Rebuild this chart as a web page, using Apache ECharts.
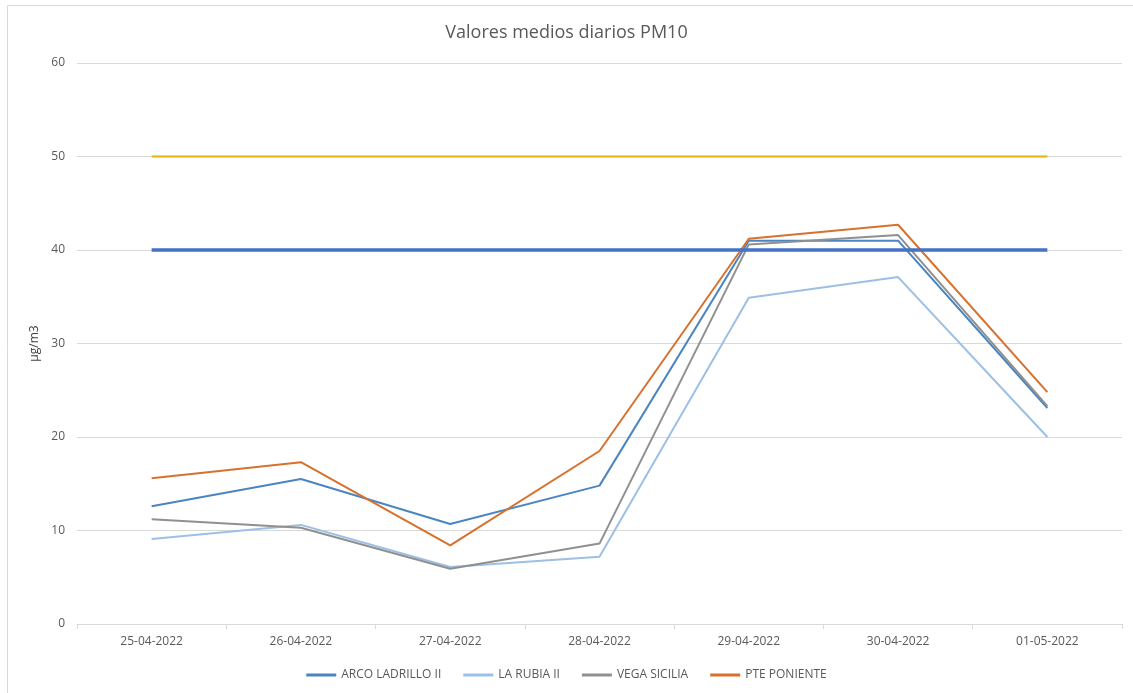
<!DOCTYPE html>
<html>
<head>
<meta charset="utf-8">
<script src="https://cdn.jsdelivr.net/npm/echarts@6/dist/echarts.min.js"></script>
<style>
html,body{margin:0;padding:0;background:#fff;}
#main{width:1133px;height:693px;}
</style>
</head>
<body>
<div id="main"></div>
<script>
const categories = ['25-04-2022','26-04-2022','27-04-2022','28-04-2022','29-04-2022','30-04-2022','01-05-2022'];
const arcoLadrillo = [12.6, 15.5, 10.7, 14.8, 41.0, 41.0, 23.1];
const laRubia = [9.1, 10.6, 6.1, 7.2, 34.9, 37.1, 20.0];
const vegaSicilia = [11.2, 10.3, 5.9, 8.6, 40.6, 41.6, 23.3];
const ptePoniente = [15.6, 17.3, 8.4, 18.5, 41.2, 42.7, 24.8];
const limit50 = [50, 50, 50, 50, 50, 50, 50];
const limit40 = [40, 40, 40, 40, 40, 40, 40];
const yTicks = { min: 0, max: 60, interval: 10 };

const font = '"Open Sans", "Noto Sans", sans-serif';
const chart = echarts.init(document.getElementById('main'));
function line(name, data, color, width) {
  return { name, type: 'line', data, symbol: 'none', lineStyle: { color, width }, itemStyle: { color }, animation: false };
}
chart.setOption({
  backgroundColor: '#fff',
  animation: false,
  title: {
    text: 'Valores medios diarios PM10', left: 'center', top: 19,
    textStyle: { fontFamily: font, fontSize: 18, fontWeight: 'normal', color: '#595959' }
  },
  graphic: [{
    type: 'rect', shape: { x: 7.5, y: 5.5, width: 1140, height: 700 },
    style: { fill: 'none', stroke: '#D9D9D9', lineWidth: 1 }, silent: true
  }],
  grid: { left: 77, right: 11, top: 63, bottom: 69 },
  legend: {
    data: ['ARCO LADRILLO II', 'LA RUBIA II', 'VEGA SICILIA', 'PTE PONIENTE'],
    bottom: 7, left: 'center', icon: 'rect', itemWidth: 30, itemHeight: 3, itemGap: 22,
    textStyle: { fontFamily: font, fontSize: 12, color: '#595959' }
  },
  xAxis: {
    type: 'category', data: categories, boundaryGap: true,
    axisLine: { lineStyle: { color: '#D9D9D9' } },
    axisTick: { show: true, length: 5, lineStyle: { color: '#D9D9D9' } },
    axisLabel: { fontFamily: font, fontSize: 12, color: '#595959', margin: 12 }
  },
  yAxis: {
    type: 'value', min: yTicks.min, max: yTicks.max, interval: yTicks.interval,
    name: 'µg/m3', nameLocation: 'middle', nameGap: 29, nameRotate: 90,
    nameTextStyle: { fontFamily: font, fontSize: 12, color: '#404040' },
    axisLine: { show: false }, axisTick: { show: false },
    axisLabel: { fontFamily: font, fontSize: 12, color: '#595959', margin: 12 },
    splitLine: { lineStyle: { color: '#D9D9D9' } }
  },
  series: [
    line('ARCO LADRILLO II', arcoLadrillo, '#4A85C2', 2),
    line('LA RUBIA II', laRubia, '#9CC0E5', 2),
    line('VEGA SICILIA', vegaSicilia, '#909090', 2),
    line('PTE PONIENTE', ptePoniente, '#D7712D', 2),
    line('Límite 50', limit50, '#E6B20E', 2),
    line('Límite 40', limit40, '#4472C4', 3.5)
  ]
});
</script>
</body>
</html>
